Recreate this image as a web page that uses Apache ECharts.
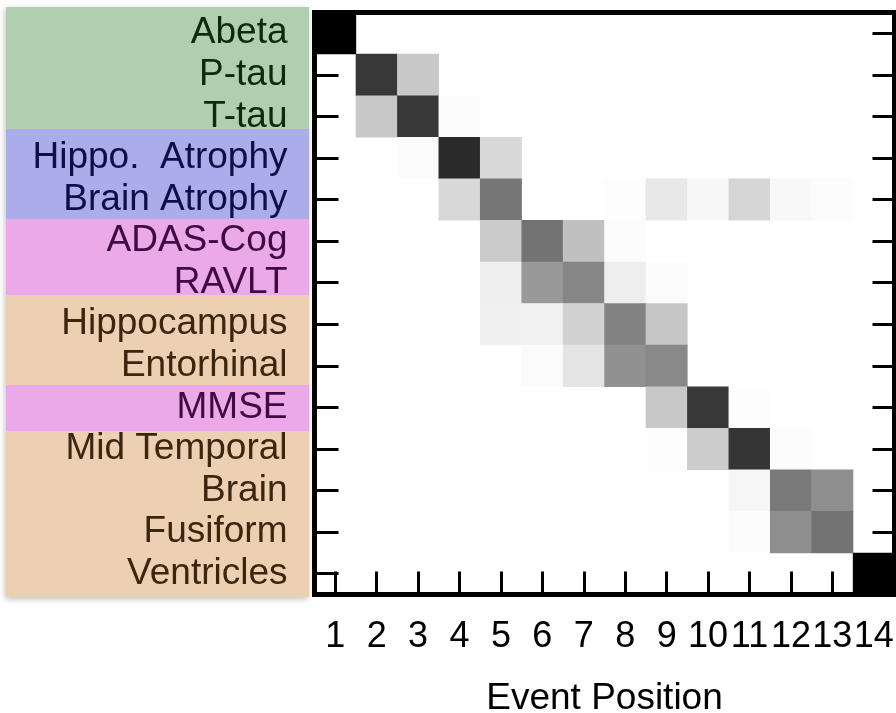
<!DOCTYPE html>
<html>
<head>
<meta charset="utf-8">
<script src="https://cdn.jsdelivr.net/npm/echarts@6/dist/echarts.min.js"></script>
<style>
html,body{margin:0;padding:0;background:#fff;}
#chart{width:896px;height:713px;}
</style>
</head>
<body>
<div id="chart"></div>
<script>
// ---- data ----
const biomarkers = ['Abeta', 'P-tau', 'T-tau', 'Hippo.  Atrophy', 'Brain Atrophy', 'ADAS-Cog', 'RAVLT',
  'Hippocampus', 'Entorhinal', 'MMSE', 'Mid Temporal', 'Brain', 'Fusiform', 'Ventricles'];
const eventPositions = ['1','2','3','4','5','6','7','8','9','10','11','12','13','14'];
// probability of each biomarker (row) at each event position (column)
const positionProb = [
  [1.000,0,0,0,0,0,0,0,0,0,0,0,0,0],
  [0,0.780,0.216,0,0,0,0,0,0,0,0,0,0,0],
  [0,0.216,0.780,0.012,0,0,0,0,0,0,0,0,0,0],
  [0,0,0.012,0.835,0.153,0,0,0,0,0,0,0,0,0],
  [0,0,0,0.153,0.533,0,0,0.008,0.090,0.031,0.160,0.027,0.010,0],
  [0,0,0,0,0.204,0.549,0.247,0.012,0,0,0,0,0,0],
  [0,0,0,0,0.063,0.400,0.475,0.067,0.012,0,0,0,0,0],
  [0,0,0,0,0.059,0.055,0.176,0.490,0.224,0,0,0,0,0],
  [0,0,0,0,0,0.016,0.105,0.431,0.463,0,0,0,0,0],
  [0,0,0,0,0,0,0,0,0.216,0.780,0.008,0,0,0],
  [0,0,0,0,0,0,0,0,0.008,0.200,0.792,0.012,0,0],
  [0,0,0,0,0,0,0,0,0,0,0.035,0.525,0.443,0],
  [0,0,0,0,0,0,0,0,0,0,0.012,0.443,0.549,0],
  [0,0,0,0,0,0,0,0,0,0,0,0,0,1.000]
];
// biomarker group of each row
const biomarkerGroup = ['csf','csf','csf','atrophy','atrophy','cog','cog',
  'mri','mri','cog','mri','mri','mri','mri'];

// ---- styles ----
const groupTextColor = {csf:'#0c2a0c', atrophy:'#0e0e48', cog:'#3e0a40', mri:'#3b260f'};
const groupBgColor = {csf:'#afcfaf', atrophy:'#abacea', cog:'#eba9ea', mri:'#edd0b1'};
const FONT = 'Liberation Sans';

const heatData = [];
positionProb.forEach((row, r) => row.forEach((v, c) => {
  if (v > 0) heatData.push([c, r, v]);
}));

const G = {left: 314.5, top: 12.5, right: 1.5, bottom: 118.5};
const axisLineStyle = {color:'#000', width:5, cap:'square'};

// background bands behind the label column (follow the label text blocks)
const bands = [
  {g:'csf', y0:7, y1:129}, {g:'atrophy', y0:129, y1:219}, {g:'cog', y0:219, y1:295},
  {g:'mri', y0:295, y1:385}, {g:'cog', y0:385, y1:431}, {g:'mri', y0:431, y1:597}
];
const graphics = [{
  type:'rect', left:6, top:7, z:-1,
  shape:{width:303, height:590},
  style:{fill:'#edd0b1', shadowBlur:6, shadowColor:'rgba(0,0,0,0.25)', shadowOffsetY:2, shadowOffsetX:-1}
}].concat(bands.map(b => ({
  type:'rect', left:6, top:b.y0, z:-1,
  shape:{width:303, height:b.y1 - b.y0},
  style:{fill:groupBgColor[b.g]}
})));

const chart = echarts.init(document.getElementById('chart'), null, {renderer:'canvas'});
chart.setOption({
  animation:false,
  backgroundColor:'#ffffff',
  graphic:graphics,
  grid:{left:G.left, top:G.top, right:G.right, bottom:G.bottom, containLabel:false, outerBoundsMode:'none'},
  visualMap:{show:false, type:'continuous', min:0, max:1, dimension:2,
    inRange:{color:['#ffffff','#000000']}},
  xAxis:[{
    type:'category', data:eventPositions, position:'bottom', z:10,
    axisLine:{show:true, lineStyle:axisLineStyle},
    axisTick:{show:true, inside:true, alignWithLabel:true, length:23, lineStyle:{color:'#000', width:3}},
    axisLabel:{interval:0, margin:25, fontFamily:FONT, fontSize:36, color:'#000', hideOverlap:false},
    name:'Event Position', nameLocation:'middle', nameGap:86,
    nameTextStyle:{fontFamily:FONT, fontSize:37, color:'#000'},
    splitLine:{show:false}
  },{
    type:'category', data:eventPositions, position:'top', z:10,
    axisLine:{show:true, lineStyle:axisLineStyle},
    axisTick:{show:false}, axisLabel:{show:false}, splitLine:{show:false}
  }],
  yAxis:[{
    type:'category', data:biomarkers, inverse:true, position:'left', z:10,
    axisLine:{show:true, lineStyle:axisLineStyle},
    axisTick:{show:true, inside:true, alignWithLabel:true, length:24, lineStyle:{color:'#000', width:3}},
    axisLabel:{interval:0, margin:27, fontFamily:FONT, fontSize:37,
      color:(v, i) => groupTextColor[biomarkerGroup[i]]},
    splitLine:{show:false}
  },{
    type:'category', data:biomarkers, inverse:true, position:'right', z:10,
    axisLine:{show:true, lineStyle:axisLineStyle},
    axisTick:{show:true, inside:true, alignWithLabel:true, length:22, lineStyle:{color:'#000', width:3}},
    axisLabel:{show:false}, splitLine:{show:false}
  }],
  series:[{
    type:'heatmap', xAxisIndex:0, yAxisIndex:0, data:heatData,
    itemStyle:{borderWidth:0}, emphasis:{disabled:true}
  }]
});
</script>
</body>
</html>
